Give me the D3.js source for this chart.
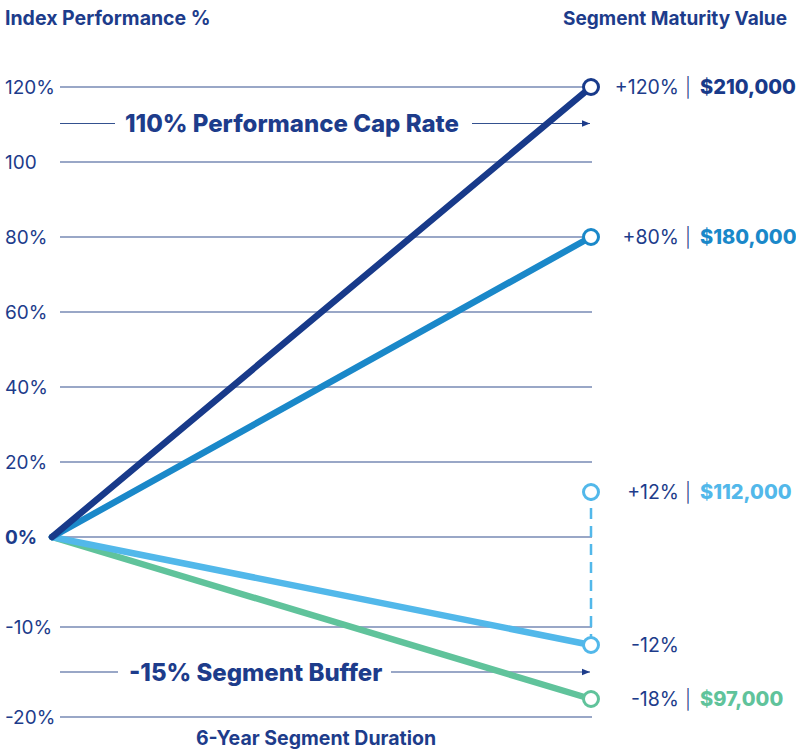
<!DOCTYPE html>
<html>
<head>
<meta charset="utf-8">
<script src="https://cdn.jsdelivr.net/npm/d3@7"></script>
<style>
  html, body { margin: 0; padding: 0; background: #fff; }
  svg { display: block; font-family: Inter, "Open Sans", sans-serif; }
</style>
</head>
<body>
<svg id="chart" width="796" height="750"></svg>
<script>
// Y-axis ticks and their labels
const yTicks = [120, 100, 80, 60, 40, 20, 0, -10, -20];
const yTickLabels = ["120%", "100", "80%", "60%", "40%", "20%", "0%", "-10%", "-20%"];

// Segment duration in years
const years = [0, 6];

// Index outcomes at maturity
const scenarioNames = ["High growth", "Moderate growth", "Loss within buffer", "Loss beyond buffer"];
const scenarioEnd = [120, 80, -12, -18];
const scenarioColors = ["#183a8a", "#1a88c9", "#52b8ea", "#60c39b"];

// End-point labels
const pctLabels = ["+120%", "+80%", "+12%", "-12%", "-18%"];
const pctValues = [120, 80, 12, -12, -18];
const markerColors = ["#183a8a", "#1a88c9", "#52b8ea", "#52b8ea", "#60c39b"];
const maturityValues = ["$210,000", "$180,000", "$112,000", "", "$97,000"];

// Buffer-adjusted credit for the in-buffer loss
const bufferedFrom = -12;
const bufferedTo = 12;

// Annotation levels
const capRate = 110;
const bufferLevel = -15;

const navy = "#1d3c8b";
const gridColor = "#34518f";
const svg = d3.select("#chart");

const x = d3.scaleLinear().domain(years).range([52, 591]);
// Piecewise scale: the negative range is stretched for readability
const y = d3.scaleLinear().domain([-20, 0, 120]).range([717, 537, 87]);

// Grid lines
svg.append("g").selectAll("line").data(yTicks).join("line")
  .attr("x1", 60).attr("x2", 592)
  .attr("y1", d => y(d)).attr("y2", d => y(d))
  .attr("stroke", gridColor).attr("stroke-width", 1.1);

// Tick labels
svg.append("g").selectAll("text").data(yTicks).join("text")
  .attr("x", 5).attr("y", d => y(d) + 6.5)
  .attr("font-size", 19)
  .attr("font-weight", d => d === 0 ? 700 : 400)
  .attr("fill", navy)
  .text((d, i) => yTickLabels[i]);

// Titles
svg.append("text").attr("x", 5).attr("y", 25)
  .attr("font-size", 19.5).attr("font-weight", 700).attr("fill", navy)
  .text("Index Performance %");
svg.append("text").attr("x", 787).attr("y", 25).attr("text-anchor", "end")
  .attr("font-size", 19).attr("font-weight", 700).attr("fill", navy)
  .text("Segment Maturity Value");
svg.append("text").attr("x", 316).attr("y", 745).attr("text-anchor", "middle")
  .attr("font-size", 19.5).attr("font-weight", 700).attr("fill", navy)
  .text("6-Year Segment Duration");

// Arrow marker
svg.append("defs").append("marker")
  .attr("id", "arrow").attr("viewBox", "0 0 10 10")
  .attr("refX", 10).attr("refY", 5)
  .attr("markerWidth", 8).attr("markerHeight", 8)
  .attr("markerUnits", "userSpaceOnUse")
  .attr("orient", "auto")
  .append("path").attr("d", "M0,1 L10,5 L0,9 Z").attr("fill", navy);

// Annotations: cap rate and segment buffer
const annotations = [
  { level: capRate, text: "110% Performance Cap Rate", textX: 125, lineEnd: 115, arrowStart: 472 },
  { level: bufferLevel, text: "-15% Segment Buffer", textX: 129, lineEnd: 118, arrowStart: 391 }
];
const annY = d => y(d.level) - (d.level === capRate ? 1 : 0);
const ann = svg.append("g").selectAll("g").data(annotations).join("g");
ann.append("line")
  .attr("x1", 60).attr("x2", d => d.lineEnd)
  .attr("y1", annY).attr("y2", annY)
  .attr("stroke", gridColor).attr("stroke-width", 1.1);
ann.append("line")
  .attr("x1", d => d.arrowStart).attr("x2", 590)
  .attr("y1", annY).attr("y2", annY)
  .attr("stroke", gridColor).attr("stroke-width", 1.1)
  .attr("marker-end", "url(#arrow)");
ann.append("text")
  .attr("x", d => d.textX).attr("y", d => annY(d) + 8.5)
  .attr("font-size", 24).attr("font-weight", 800).attr("fill", navy)
  .text(d => d.text);

// Dashed buffer credit connector
svg.append("line")
  .attr("x1", x(6)).attr("x2", x(6))
  .attr("y1", y(bufferedFrom)).attr("y2", y(bufferedTo))
  .attr("stroke", "#52b8ea").attr("stroke-width", 2.5)
  .attr("stroke-dasharray", "11,7");

// Scenario lines, drawn back (green) to front (navy)
const line = d3.line().x(d => x(d[0])).y(d => y(d[1]));
const scen = scenarioEnd.map((v, i) => ({ name: scenarioNames[i], color: scenarioColors[i], pts: [[years[0], 0], [years[1], v]] }));
svg.append("g").selectAll("path").data(scen.slice().reverse()).join("path")
  .attr("d", d => line(d.pts))
  .attr("fill", "none").attr("stroke", d => d.color)
  .attr("stroke-width", 6.5).attr("stroke-linecap", "round");

// End markers
svg.append("g").selectAll("circle").data(pctValues).join("circle")
  .attr("cx", x(6)).attr("cy", d => y(d))
  .attr("r", 7.5).attr("fill", "#fff")
  .attr("stroke", (d, i) => markerColors[i]).attr("stroke-width", 3);

// Maturity labels
const labels = svg.append("g").selectAll("g").data(pctValues).join("g")
  .attr("transform", d => `translate(0,${y(d) + 7})`);
labels.append("text")
  .attr("x", 679).attr("text-anchor", "end")
  .attr("font-size", 19.5).attr("fill", navy)
  .text((d, i) => pctLabels[i]);
labels.filter((d, i) => maturityValues[i] !== "").append("text")
  .attr("x", 688).attr("text-anchor", "middle")
  .attr("font-size", 19).attr("font-weight", 300).attr("fill", navy)
  .text("|");
labels.append("text")
  .attr("x", 700)
  .attr("font-size", 20).attr("font-weight", 800)
  .attr("fill", (d, i) => markerColors[i])
  .text((d, i) => maturityValues[i]);
</script>
</body>
</html>
